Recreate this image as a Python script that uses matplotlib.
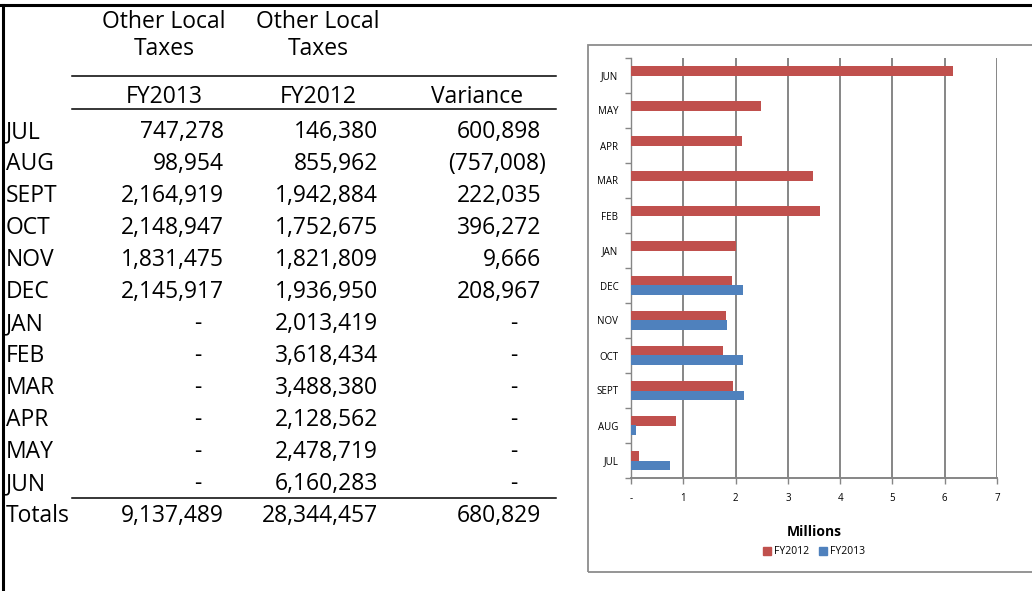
import numpy as np
import matplotlib
matplotlib.use("Agg")
import matplotlib.pyplot as plt
from matplotlib.patches import Rectangle, Patch
from matplotlib.lines import Line2D

plt.rcParams['font.family'] = ['Open Sans', 'DejaVu Sans']

months = ["JUL", "AUG", "SEPT", "OCT", "NOV", "DEC",
          "JAN", "FEB", "MAR", "APR", "MAY", "JUN"]
fy2013 = [747278, 98954, 2164919, 2148947, 1831475, 2145917, 0, 0, 0, 0, 0, 0]
fy2012 = [146380, 855962, 1942884, 1752675, 1821809, 1936950,
          2013419, 3618434, 3488380, 2128562, 2478719, 6160283]
variance = [600898, -757008, 222035, 396272, 9666, 208967, 0, 0, 0, 0, 0, 0]
totals = [9137489, 28344457, 680829]
col_heads = [("Other Local", "Taxes", "FY2013"),
             ("Other Local", "Taxes", "FY2012"),
             ("", "", "Variance")]
x_ticks = [0, 1, 2, 3, 4, 5, 6, 7]
x_tick_labels = ["-", "1", "2", "3", "4", "5", "6", "7"]

RED = "#C0504D"
BLUE = "#4F81BD"
GRID = "#868686"

W, H = 1032, 591
fig = plt.figure(figsize=(W / 100, H / 100), dpi=100)


def fx(x):
    return x / W


def fy(y):
    return 1 - y / H


def fmt(v):
    if v == 0:
        return "-"
    if v < 0:
        return f"({-v:,})"
    return f"{v:,}"


# ---- table ----
tfs = 16.5
fig.add_artist(Line2D([fx(3), fx(3)], [fy(5), 0], color="black", lw=2.2))
fig.add_artist(Line2D([0, 1], [fy(5), fy(5)], color="black", lw=2.2))

head_cx = [164, 318, 477]
for cx, (h1, h2, h3) in zip(head_cx, col_heads):
    fig.text(fx(cx), fy(28), h1, ha="center", va="baseline", fontsize=tfs)
    fig.text(fx(cx), fy(55), h2, ha="center", va="baseline", fontsize=tfs)
    fig.text(fx(cx), fy(103), h3, ha="center", va="baseline", fontsize=tfs)

for yl in (76, 109, 498):
    fig.add_artist(Line2D([fx(72), fx(556)], [fy(yl), fy(yl)], color="black", lw=1.1))

right_x = [224, 378, 541]
dash_x = [198, 352, 514]
for i, m in enumerate(months):
    base = 138 + 32 * i
    fig.text(fx(6), fy(base), m, ha="left", va="baseline", fontsize=tfs)
    for j, col in enumerate([fy2013, fy2012, variance]):
        v = col[i]
        if v == 0:
            fig.text(fx(dash_x[j]), fy(base), "-", ha="center", va="baseline", fontsize=tfs)
        elif v < 0:
            fig.text(fx(right_x[j] + 5), fy(base), fmt(v), ha="right", va="baseline", fontsize=tfs)
        else:
            fig.text(fx(right_x[j]), fy(base), fmt(v), ha="right", va="baseline", fontsize=tfs)

fig.text(fx(6), fy(522), "Totals", ha="left", va="baseline", fontsize=tfs)
for j, v in enumerate(totals):
    fig.text(fx(right_x[j]), fy(522), fmt(v), ha="right", va="baseline", fontsize=tfs)

# ---- chart ----
fig.add_artist(Rectangle((fx(588), fy(572)), fx(1045) - fx(588), fy(45) - fy(572),
                         transform=fig.transFigure, fill=False,
                         edgecolor="#8C8C8C", lw=1.3, clip_on=False))

ax = fig.add_axes([fx(631), fy(478), fx(997) - fx(631), fy(58) - fy(478)])
y = np.arange(len(months))
bh = 0.27
ax.barh(y + bh / 2, np.array(fy2012) / 1e6, height=bh, color=RED, zorder=3)
ax.barh(y - bh / 2, np.array(fy2013) / 1e6, height=bh, color=BLUE, zorder=3)

ax.set_xlim(0, 7)
ax.set_ylim(-0.5, len(months) - 0.5)
ax.set_xticks(x_ticks)
ax.set_xticklabels(x_tick_labels, fontsize=7)
ax.set_yticks(y)
ax.set_yticklabels(months, fontsize=7)
ax.set_yticks(np.arange(-0.5, len(months)), minor=True)
ax.tick_params(axis="y", which="major", length=0, pad=9)
ax.tick_params(axis="y", which="minor", length=4, color=GRID, width=1)
ax.tick_params(axis="x", length=4, color=GRID, width=1, pad=7)

for xv in x_ticks[1:]:
    ax.axvline(xv, color=GRID, lw=1.4, zorder=1)

for s in ("top", "right"):
    ax.spines[s].set_visible(False)
ax.spines["left"].set_color(GRID)
ax.spines["left"].set_linewidth(1.0)
ax.spines["bottom"].set_color(GRID)
ax.spines["bottom"].set_linewidth(1.4)

fig.text(fx(814), fy(532), "Millions", ha="center", va="center",
         fontsize=10, fontweight="bold")
handles = [Patch(color=RED, label="FY2012"), Patch(color=BLUE, label="FY2013")]
fig.legend(handles=handles, loc="center", bbox_to_anchor=(fx(814), fy(552)),
           ncol=2, frameon=False, fontsize=7.5, handlelength=0.7,
           handleheight=0.9, handletextpad=0.3, columnspacing=1.0)

fig.savefig("out.png", dpi=100)
